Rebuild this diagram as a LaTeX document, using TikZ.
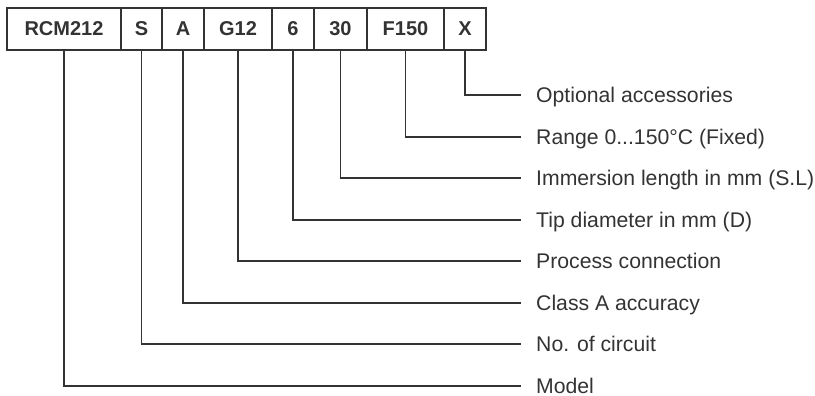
\documentclass[tikz,border=0pt]{standalone}
\usepackage{fontspec}
\setmainfont{Liberation Sans}
\usetikzlibrary{positioning}
\definecolor{codegray}{HTML}{333333}

\begin{document}
\begin{tikzpicture}[x=1pt,y=-1pt]
    \tikzstyle{every node}=[font=\fontsize{21.2}{25}\selectfont, text=codegray]
    \tikzstyle{field} = [draw=codegray, line width=1.2pt, minimum height=42pt, inner sep=0pt, outer sep=0pt, font=\fontsize{20}{24}\selectfont\bfseries]
    \tikzstyle{desc} = [anchor=west, inner sep=0pt, text height=15pt, text depth=0pt]
    \tikzstyle{lead} = [draw=codegray, line width=1.3pt]
    \useasboundingbox (0,0) rectangle (815,396);

    % code fields
    \node[field, minimum width=114pt](f1) at (64,29) {RCM212};
    \node[field, minimum width=41pt, right=0pt of f1](f2) {S};
    \node[field, minimum width=42pt, right=0pt of f2](f3) {A};
    \node[field, minimum width=68pt, right=0pt of f3](f4) {G12};
    \node[field, minimum width=42pt, right=0pt of f4](f5) {6};
    \node[field, minimum width=53pt, right=0pt of f5](f6) {30};
    \node[field, minimum width=77pt, right=0pt of f6](f7) {F150};
    \node[field, minimum width=42pt, right=0pt of f7](f8) {X};

    % descriptions
    \node[desc](d8) at (536,95) {Optional accessories};
    \node[desc](d7) at (536,137) {Range 0...150°C (Fixed)};
    \node[desc](d6) at (536,178) {Immersion length in mm (S.L)};
    \node[desc](d5) at (536,220) {Tip diameter in mm (D)};
    \node[desc](d4) at (536,261) {Process connection};
    \node[desc](d3) at (536,303) {Class A accuracy};
    \node[desc](d2) at (536,344) {No. of circuit};
    \node[desc](d1) at (536,386) {Model};

    \foreach \i in {1,...,8}
        \draw[lead] (f\i.south) |- ([xshift=-15pt]d\i.west);
\end{tikzpicture}
\end{document}
